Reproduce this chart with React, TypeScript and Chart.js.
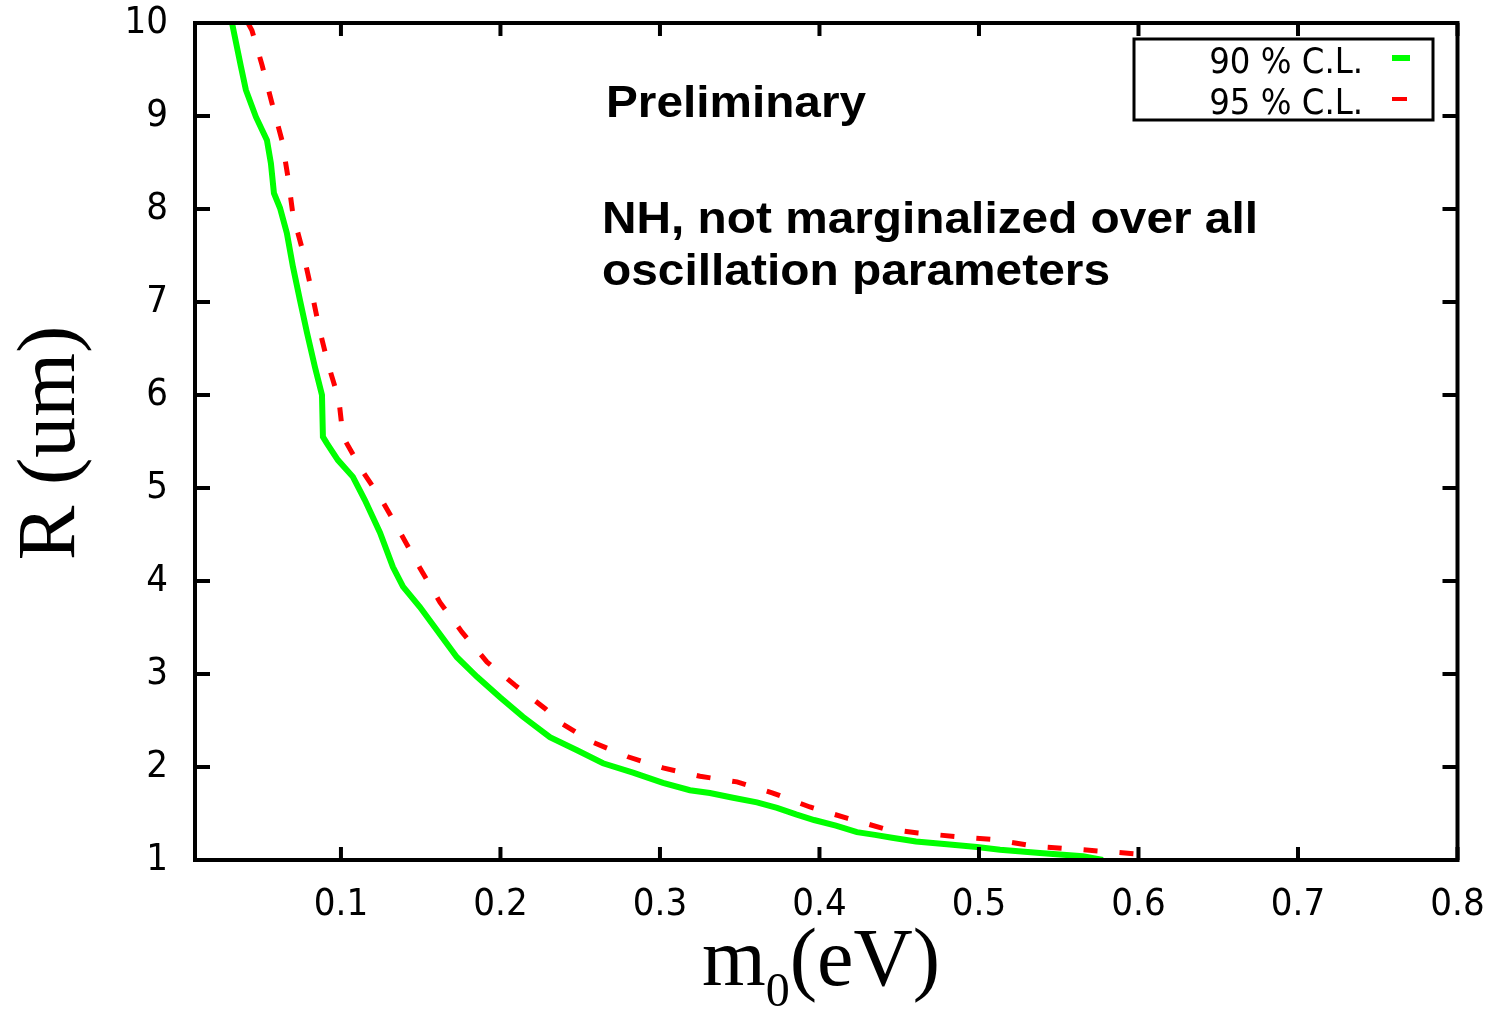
import React, { useEffect, useRef } from "react";
import { Chart, registerables } from "chart.js";

Chart.register(...registerables);

// ---- data ----
const m0Green = [
  0.0317, 0.0373, 0.0404, 0.0467, 0.0536, 0.0561, 0.058, 0.0618, 0.0661, 0.0699,
  0.0743, 0.0787, 0.0837, 0.0881, 0.0887, 0.0912, 0.0981, 0.1075, 0.115, 0.1245,
  0.1326, 0.1389, 0.1495, 0.1602, 0.1727, 0.1853, 0.1997, 0.2141, 0.231, 0.248,
  0.2643, 0.2831, 0.3019, 0.3188, 0.3313, 0.3458, 0.3608, 0.3734, 0.3853, 0.3966,
  0.4103, 0.4235, 0.4348, 0.4455, 0.4605, 0.4799, 0.4987, 0.5132, 0.5382, 0.5652,
  0.5777,
];
const rGreen = [
  10.0, 9.53, 9.28, 8.99, 8.74, 8.49, 8.17, 8.01, 7.74, 7.38,
  7.02, 6.67, 6.3, 6.0, 5.55, 5.48, 5.3, 5.12, 4.87, 4.52,
  4.15, 3.94, 3.72, 3.47, 3.18, 2.97, 2.75, 2.54, 2.32, 2.18,
  2.04, 1.94, 1.83, 1.75, 1.72, 1.67, 1.62, 1.56, 1.49, 1.43,
  1.37, 1.3, 1.27, 1.24, 1.2, 1.17, 1.14, 1.11, 1.075, 1.04,
  1.0,
];
const m0Red = [
  0.0417, 0.0442, 0.0505, 0.0567, 0.063, 0.0668, 0.0699, 0.0762, 0.0812, 0.0862,
  0.0918, 0.0987, 0.1013, 0.1132, 0.1263, 0.1382, 0.1495, 0.1621, 0.1759, 0.1915,
  0.2091, 0.2279, 0.2373, 0.2574, 0.2799, 0.3019, 0.3251, 0.3483, 0.3708, 0.394,
  0.4172, 0.4398, 0.4618, 0.4868, 0.51, 0.5339, 0.5571, 0.5803, 0.6103,
];
const rRed = [
  10.0, 9.92, 9.55, 9.14, 8.74, 8.34, 7.94, 7.54, 7.15, 6.73,
  6.34, 5.95, 5.55, 5.19, 4.85, 4.49, 4.14, 3.77, 3.45, 3.13,
  2.88, 2.63, 2.48, 2.27, 2.11, 1.99, 1.9, 1.84, 1.72, 1.57,
  1.45, 1.34, 1.29, 1.25, 1.22, 1.15, 1.12, 1.09, 1.05,
];
const xTicks = [0.1, 0.2, 0.3, 0.4, 0.5, 0.6, 0.7, 0.8];
const xTickLabels = ["0.1", "0.2", "0.3", "0.4", "0.5", "0.6", "0.7", "0.8"];
const yTicks = [1, 2, 3, 4, 5, 6, 7, 8, 9, 10];
const seriesLabels = ["90 % C.L.", "95 % C.L."];
const seriesColors = ["#00ff00", "#ff0000"];
const noteLines = ["Preliminary", "NH, not marginalized over all", "oscillation parameters"];
const yTitle = "R (um)";
const xTitleMain = "m";
const xTitleSub = "0";
const xTitleRest = "(eV)";

const TICK_FONT = "'Liberation Sans Narrow', 'DejaVu Sans Condensed', 'Liberation Sans', sans-serif";
const SERIF = "'Liberation Serif', 'DejaVu Serif', serif";
const BOLD = "'Liberation Sans', Arial, sans-serif";

function drawScaled(ctx: CanvasRenderingContext2D, text: string, x: number, y: number, targetW: number) {
  const w = ctx.measureText(text).width;
  ctx.save();
  ctx.translate(x, y);
  ctx.scale(targetW / w, 1);
  ctx.fillText(text, 0, 0);
  ctx.restore();
}

const framePlugin = {
  id: "framePlugin",
  afterDatasetsDraw(chart: any) {
    const { ctx, chartArea: a, scales } = chart;
    const xs = scales.x;
    const ys = scales.y;
    ctx.save();
    ctx.strokeStyle = "#000";
    ctx.lineCap = "butt";
    // ticks (inward, mirrored)
    ctx.lineWidth = 4;
    ctx.beginPath();
    for (const v of xTicks) {
      const px = xs.getPixelForValue(v);
      ctx.moveTo(px, a.bottom);
      ctx.lineTo(px, a.bottom - 13);
      ctx.moveTo(px, a.top);
      ctx.lineTo(px, a.top + 13);
    }
    for (const v of yTicks) {
      const py = ys.getPixelForValue(v);
      ctx.moveTo(a.left, py);
      ctx.lineTo(a.left + 15, py);
      ctx.moveTo(a.right, py);
      ctx.lineTo(a.right - 15, py);
    }
    ctx.stroke();
    ctx.strokeRect(a.left, a.top, a.right - a.left, a.bottom - a.top);

    // legend box
    const lx = 1134, ly = 39, lw = 299, lh = 81;
    ctx.fillStyle = "#fff";
    ctx.fillRect(lx, ly, lw, lh);
    ctx.lineWidth = 3;
    ctx.strokeRect(lx, ly, lw, lh);
    ctx.fillStyle = "#000";
    ctx.font = `36px ${TICK_FONT}`;
    ctx.textAlign = "right";
    ctx.textBaseline = "alphabetic";
    ctx.fillText(seriesLabels[0], 1363, 73);
    ctx.fillText(seriesLabels[1], 1363, 114);
    ctx.fillStyle = seriesColors[0];
    ctx.fillRect(1392, 55, 18, 6);
    ctx.fillStyle = seriesColors[1];
    ctx.fillRect(1392, 97, 15, 4);

    // annotations
    ctx.fillStyle = "#000";
    ctx.textAlign = "left";
    ctx.font = `bold 44px ${BOLD}`;
    drawScaled(ctx, noteLines[0], 606, 117, 260);
    drawScaled(ctx, noteLines[1], 602, 233, 656);
    drawScaled(ctx, noteLines[2], 602, 285, 508);

    // axis titles
    ctx.font = `82px ${SERIF}`;
    ctx.save();
    ctx.translate(74, 443);
    ctx.rotate(-Math.PI / 2);
    ctx.textAlign = "center";
    ctx.fillText(yTitle, 0, 0);
    ctx.restore();

    ctx.textAlign = "left";
    let cx = 702;
    ctx.font = `82px ${SERIF}`;
    ctx.fillText(xTitleMain, cx, 985);
    cx += ctx.measureText(xTitleMain).width;
    ctx.font = `48px ${SERIF}`;
    ctx.fillText(xTitleSub, cx, 1006);
    cx += ctx.measureText(xTitleSub).width;
    ctx.font = `82px ${SERIF}`;
    ctx.fillText(xTitleRest, cx, 985);
    ctx.restore();
  },
};

export default function App() {
  const ref = useRef<HTMLCanvasElement | null>(null);
  useEffect(() => {
    if (!ref.current) return;
    const chart = new Chart(ref.current, {
      type: "line",
      data: {
        datasets: [
          {
            label: seriesLabels[0],
            data: m0Green.map((x, i) => ({ x, y: rGreen[i] })),
            borderColor: seriesColors[0],
            backgroundColor: seriesColors[0],
            borderWidth: 6,
            pointRadius: 0,
            tension: 0,
            fill: false,
          },
          {
            label: seriesLabels[1],
            data: m0Red.map((x, i) => ({ x, y: rRed[i] })),
            borderColor: seriesColors[1],
            backgroundColor: seriesColors[1],
            borderWidth: 5,
            borderDash: [14, 22],
            pointRadius: 0,
            tension: 0,
            fill: false,
          },
        ],
      },
      options: {
        responsive: false,
        animation: false,
        devicePixelRatio: 1,
        layout: { padding: { top: 23, right: 37.5, bottom: 0, left: 0 } },
        plugins: { legend: { display: false }, tooltip: { enabled: false }, title: { display: false } },
        scales: {
          x: {
            type: "linear",
            min: 0.0085,
            max: 0.8,
            border: { display: false },
            grid: { display: false, drawTicks: false },
            afterBuildTicks: (s: any) => {
              s.ticks = xTicks.map((v) => ({ value: v }));
            },
            afterFit: (s: any) => {
              s.height = 149;
              s.paddingLeft = 0;
              s.paddingRight = 0;
              s.paddingTop = 0;
              s.paddingBottom = 0;
            },
            ticks: {
              autoSkip: false,
              maxRotation: 0,
              padding: 22,
              color: "#000",
              font: { family: TICK_FONT, size: 38 },
              callback: (_v: any, i: number) => xTickLabels[i],
            },
          },
          y: {
            type: "linear",
            min: 1,
            max: 10,
            border: { display: false },
            grid: { display: false, drawTicks: false },
            afterBuildTicks: (s: any) => {
              s.ticks = yTicks.map((v) => ({ value: v }));
            },
            afterFit: (s: any) => {
              s.width = 195;
              s.paddingLeft = 0;
              s.paddingRight = 0;
              s.paddingTop = 0;
              s.paddingBottom = 0;
            },
            ticks: {
              autoSkip: false,
              padding: 27,
              color: "#000",
              font: { family: TICK_FONT, size: 38 },
            },
          },
        },
      },
      plugins: [framePlugin],
    });
    return () => chart.destroy();
  }, []);
  return (
    <div style={{ position: "absolute", left: 0, top: 0, width: 1495, height: 1009, background: "#fff" }}>
      <canvas ref={ref} width={1495} height={1009} style={{ width: 1495, height: 1009, display: "block" }} />
    </div>
  );
}
